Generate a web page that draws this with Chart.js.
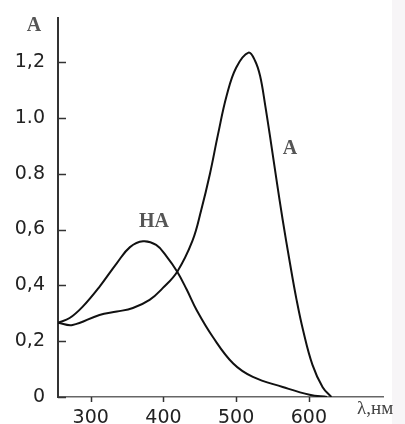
<!DOCTYPE html>
<html lang="ru">
<head>
<meta charset="UTF-8">
<title>HA / A spectrum</title>
<script src="https://cdn.jsdelivr.net/npm/chart.js"></script>
<style>
  html, body { margin: 0; padding: 0; background: #fff; }
  #wrap { width: 405px; height: 424px; position: relative; }
</style>
</head>
<body>
<div id="wrap"><canvas id="spec"></canvas></div>
<script>
// кривая HA
var haX = [255, 271, 289, 312, 336, 354, 372, 390, 404, 419, 432, 446, 468, 496, 523, 564, 601, 625];
var haY = [0.266, 0.283, 0.324, 0.395, 0.48, 0.537, 0.558, 0.545, 0.505, 0.449, 0.385, 0.31, 0.215, 0.12, 0.072, 0.036, 0.008, 0];
// кривая A
var aX = [255, 275, 312, 336, 358, 381, 399, 419, 440, 452, 464, 475, 487, 500, 517, 526, 533, 540, 548, 556, 564, 574, 583, 592, 605, 619, 631];
var aY = [0.266, 0.258, 0.294, 0.306, 0.319, 0.348, 0.39, 0.449, 0.56, 0.67, 0.80, 0.94, 1.08, 1.18, 1.234, 1.205, 1.15, 1.045, 0.91, 0.77, 0.635, 0.48, 0.35, 0.24, 0.115, 0.035, 0];

var xTicks = [300, 400, 500, 600];
var yTicks = [0, 0.2, 0.4, 0.6, 0.8, 1.0, 1.2];
var yTickLabels = ['0', '0,2', '0,4', '0,6', '0.8', '1.0', '1,2'];

function toPts(xs, ys) {
    return xs.map(function (x, i) { return { x: x, y: ys[i] }; });
}

// подписи и внутренние засечки
var extras = {
    id: 'extras',
    beforeDraw: function (chart) {
        var c = chart.ctx;
        c.save();
        c.fillStyle = '#f7f5f7';
        c.fillRect(392, 0, 13, 424);
        c.restore();
    },
    afterDraw: function (chart) {
        var c = chart.ctx, xs = chart.scales.x, ys = chart.scales.y;
        var area = chart.chartArea;
        c.save();
        c.strokeStyle = '#333';
        c.lineWidth = 1.5;
        yTicks.forEach(function (v) {
            var py = Math.round(ys.getPixelForValue(v)) + 0.5;
            c.beginPath();
            c.moveTo(area.left, py);
            c.lineTo(area.left + 8, py);
            c.stroke();
        });
        xTicks.forEach(function (v) {
            var px = Math.round(xs.getPixelForValue(v)) + 0.5;
            c.beginPath();
            c.moveTo(px, area.bottom);
            c.lineTo(px, area.bottom + 5);
            c.stroke();
        });
        c.fillStyle = '#555';
        c.font = 'bold 20px "Liberation Serif"';
        c.textAlign = 'center';
        c.textBaseline = 'middle';
        c.fillText('A', 34, 26);
        c.fillText('HA', xs.getPixelForValue(387), ys.getPixelForValue(0.627));
        c.fillText('A', xs.getPixelForValue(574), ys.getPixelForValue(0.89));
        c.fillStyle = '#444';
        c.font = '19px "Liberation Serif"';
        c.textAlign = 'left';
        c.fillText('λ,нм', 357, 409);
        c.restore();
    }
};

var lineStyle = {
    borderColor: '#111',
    borderWidth: 2,
    pointRadius: 0,
    fill: false,
    tension: 0.4
};

new Chart(document.getElementById('spec'), {
    type: 'line',
    data: {
        datasets: [
            Object.assign({ label: 'HA', data: toPts(haX, haY) }, lineStyle),
            Object.assign({ label: 'A', data: toPts(aX, aY) }, lineStyle)
        ]
    },
    options: {
        responsive: true,
        maintainAspectRatio: false,
        animation: false,
        layout: { padding: { top: 18, right: 22, left: 0, bottom: 0 } },
        plugins: { legend: { display: false }, tooltip: { enabled: false } },
        scales: {
            x: {
                type: 'linear',
                min: 255,
                max: 702,
                grid: { display: false },
                border: { color: '#666', width: 1.5 },
                afterBuildTicks: function (s) { s.ticks = xTicks.map(function (v) { return { value: v }; }); },
                afterFit: function (s) { s.height = 27; },
                ticks: {
                    color: '#222',
                    padding: 2,
                    maxRotation: 0,
                    font: { family: '"DejaVu Sans"', size: 19 },
                    callback: function (v) { return String(v); }
                }
            },
            y: {
                type: 'linear',
                min: 0,
                max: 1.358,
                grid: { display: false },
                border: { color: '#333', width: 2 },
                afterBuildTicks: function (s) { s.ticks = yTicks.map(function (v) { return { value: v }; }); },
                afterFit: function (s) { s.width = 58; },
                ticks: {
                    color: '#222',
                    padding: 5,
                    font: { family: '"DejaVu Sans"', size: 19 },
                    callback: function (v, i) { return yTickLabels[i]; }
                }
            }
        }
    },
    plugins: [extras]
});
</script>
</body>
</html>
